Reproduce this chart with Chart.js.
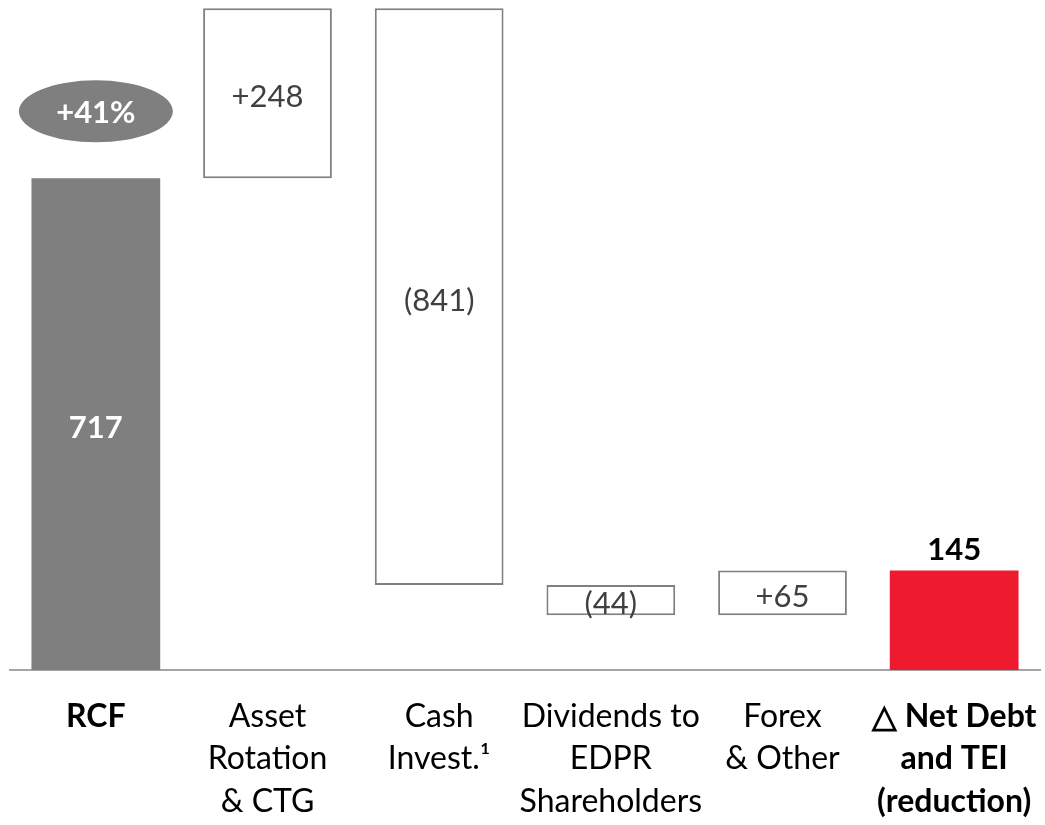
<!DOCTYPE html>
<html><head><meta charset="utf-8">
<script src="https://cdn.jsdelivr.net/npm/chart.js@4/dist/chart.umd.min.js"></script>
<style>html,body{margin:0;padding:0;background:#fff}#wrap{width:1045px;height:825px}</style>
</head><body><div id="wrap"><canvas id="c" width="1045" height="825"></canvas></div>
<script>
const categories = [["RCF"], ["Asset", "Rotation", "& CTG"], ["Cash", "Invest.¹"], ["Dividends to", "EDPR", "Shareholders"], ["Forex", "& Other"], ["△ Net Debt", "and TEI", "(reduction)"]];
const steps = [717, 248, -841, -44, 65];
const total = 145;
const valueLabels = ["717", "+248", "(841)", "(44)", "+65", "145"];
const growthLabel = "+41%";

const FONT = "Lato, 'Open Sans', sans-serif";
const ranges = [];
let cum = 0;
steps.forEach((s) => { const a = cum; cum += s; ranges.push([Math.min(a, cum), Math.max(a, cum)]); });
ranges.push([0, total]);
const bg = ['#7f7f7f', '#ffffff', '#ffffff', '#ffffff', '#ffffff', '#ee1a2f'];
const bd = ['#7f7f7f', '#808080', '#808080', '#808080', '#808080', '#ee1a2f'];

const overlay = {
  id: 'overlay',
  afterDatasetsDraw(chart) {
    const ctx = chart.ctx;
    const meta = chart.getDatasetMeta(0);
    ctx.save();
    ctx.textAlign = 'center';
    ctx.textBaseline = 'middle';
    meta.data.forEach((el, i) => {
      const top = Math.min(el.y, el.base), bot = Math.max(el.y, el.base);
      if (i === 0) {
        ctx.fillStyle = '#ffffff'; ctx.font = 'bold 31px ' + FONT;
        ctx.fillText(valueLabels[i], el.x, (top + bot) / 2 + 4);
        ctx.fillStyle = '#7f7f7f';
        ctx.beginPath(); ctx.ellipse(el.x, top - 67, 77, 31, 0, 0, Math.PI * 2); ctx.fill();
        ctx.fillStyle = '#ffffff'; ctx.font = 'bold 31px ' + FONT;
        ctx.fillText(growthLabel, el.x, top - 65);
      } else if (i === 5) {
        ctx.fillStyle = '#000000'; ctx.font = 'bold 31px ' + FONT;
        ctx.fillText(valueLabels[i], el.x, top - 21);
      } else {
        ctx.fillStyle = '#404040'; ctx.font = '31px ' + FONT;
        ctx.fillText(valueLabels[i], el.x, (top + bot) / 2 + 4);
      }
    });
    ctx.restore();
  }
};

new Chart(document.getElementById('c'), {
  type: 'bar',
  data: { labels: categories, datasets: [{ data: ranges, backgroundColor: bg, borderColor: bd, borderWidth: [0, 2, 2, 2, 2, 0], borderSkipped: false, barPercentage: 0.75, categoryPercentage: 1.0 }] },
  options: {
    responsive: false, animation: false,
    layout: { padding: { left: 10, right: 5, top: 0, bottom: 0 } },
    plugins: { legend: { display: false }, tooltip: { enabled: false } },
    scales: {
      y: { display: false, min: 0, max: 977 },
      x: {
        afterFit: (s) => { s.paddingLeft = 0; s.paddingRight = 0; s.height = 155; },
        grid: { display: false, drawTicks: false },
        border: { display: true, color: '#a6a6a6', width: 2 },
        ticks: {
          color: '#000000', padding: 25, maxRotation: 0, autoSkip: false,
          font: (c) => ({ family: FONT, size: 32, lineHeight: 1.33, weight: (c.index === 0 || c.index === 5) ? 'bold' : 'normal' })
        }
      }
    }
  },
  plugins: [overlay]
});
</script></body></html>
